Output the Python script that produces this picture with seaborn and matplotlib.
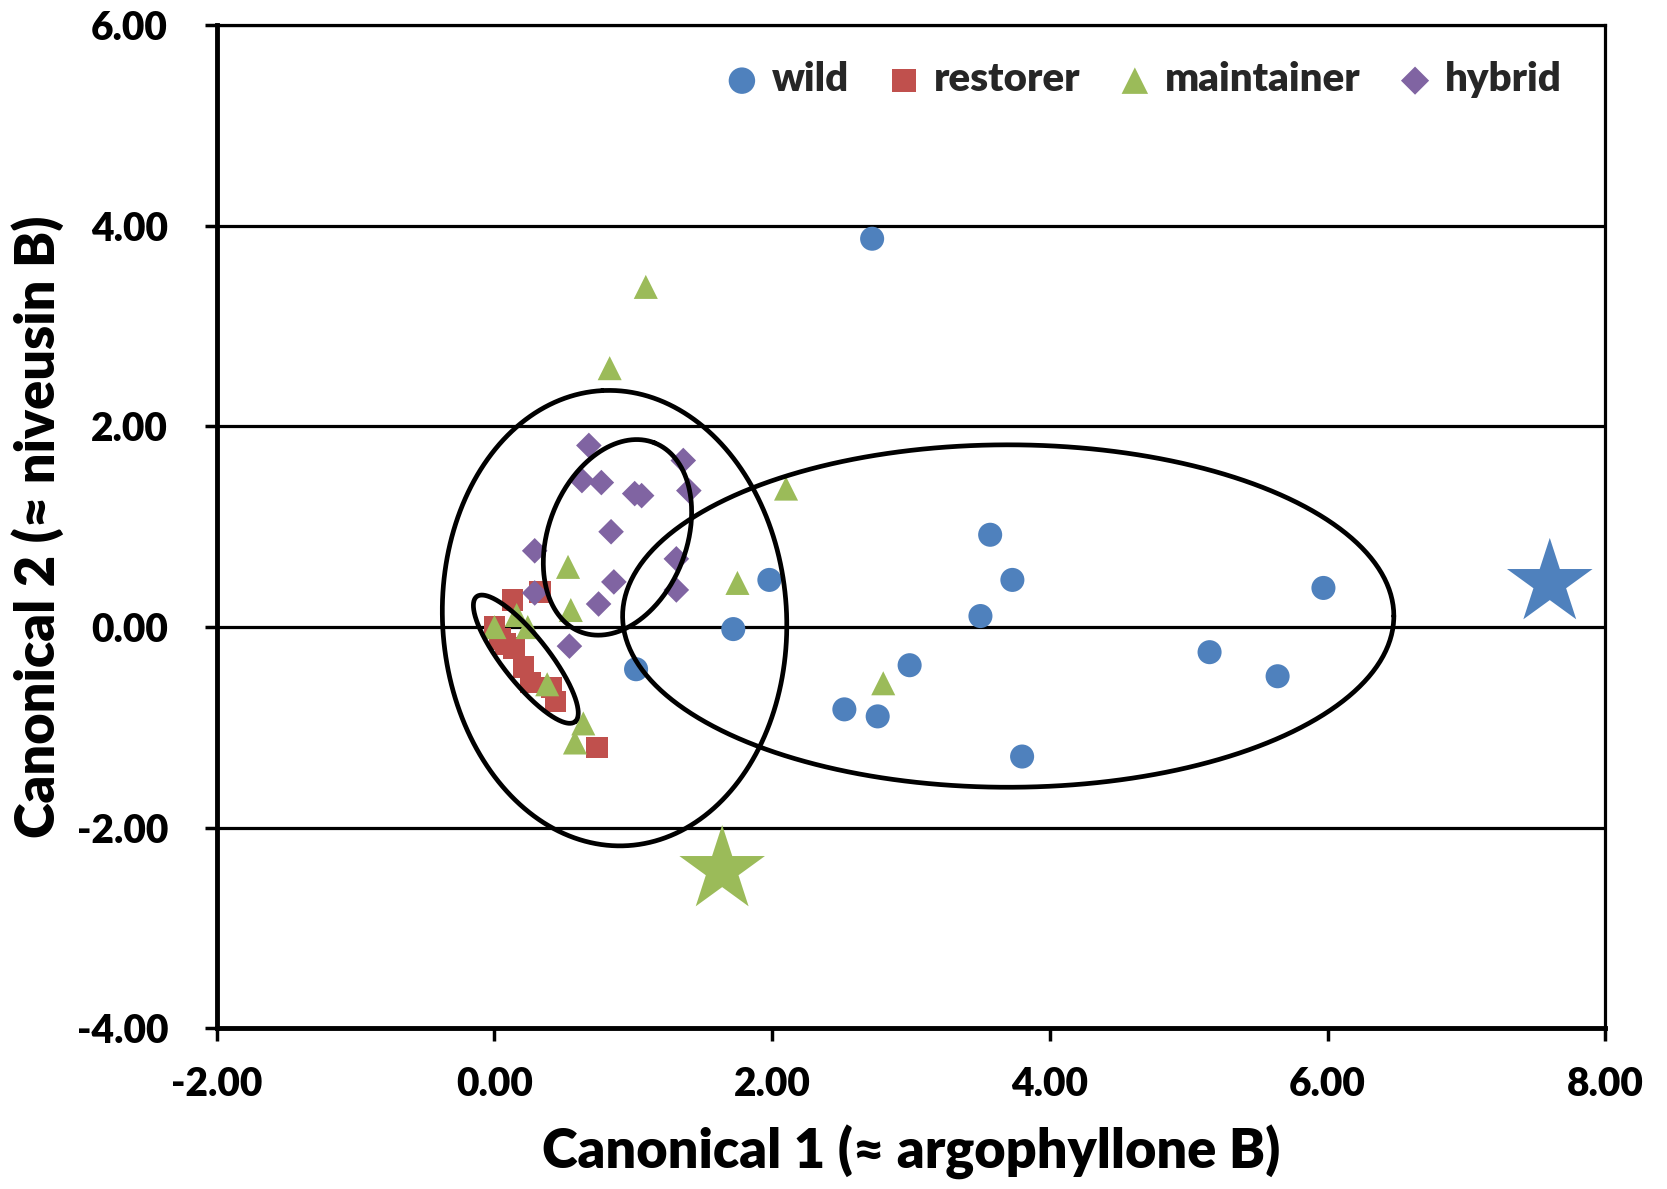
import numpy as np
import pandas as pd
import matplotlib
matplotlib.use("Agg")
import matplotlib.pyplot as plt
from matplotlib.ticker import FormatStrFormatter
import seaborn as sns

# ---------------- data ----------------
wild_x = [2.72, 3.57, 3.73, 3.50, 5.97, 5.15, 5.64, 1.98, 1.72, 1.02, 2.99, 2.52, 2.76, 3.80]
wild_y = [3.87, 0.92, 0.47, 0.11, 0.39, -0.25, -0.49, 0.47, -0.02, -0.42, -0.38, -0.82, -0.89, -1.29]

restorer_x = [0.13, 0.33, 0.00, 0.04, 0.08, 0.14, 0.21, 0.26, 0.41, 0.44, 0.74]
restorer_y = [0.27, 0.35, 0.00, -0.12, -0.17, -0.21, -0.40, -0.55, -0.60, -0.74, -1.20]

maintainer_x = [1.09, 0.83, 2.10, 1.75, 0.53, 0.55, 0.00, 0.16, 0.24, 0.38, 0.64, 0.58, 2.80]
maintainer_y = [3.39, 2.58, 1.38, 0.44, 0.60, 0.17, 0.00, 0.12, 0.00, -0.57, -0.96, -1.15, -0.56]

hybrid_x = [0.68, 1.36, 0.63, 0.77, 1.01, 1.06, 1.40, 0.84, 0.29, 1.31, 0.86, 1.31, 0.29, 0.75, 0.54]
hybrid_y = [1.81, 1.66, 1.46, 1.44, 1.33, 1.31, 1.36, 0.95, 0.76, 0.68, 0.45, 0.37, 0.34, 0.23, -0.19]

# group centroids marked with stars
star_groups = ["wild", "maintainer"]
star_x = [7.60, 1.64]
star_y = [0.44, -2.42]

groups = ["wild", "restorer", "maintainer", "hybrid"]

# confidence ellipses: centre (x, y), semi-axes in x-axis units, angle (deg, on screen)
ell_cx = [0.865, 0.226, 0.886, 3.70]
ell_cy = [0.089, -0.32, 0.894, 0.11]
ell_a = [1.641, 0.573, 0.731, 2.777]
ell_b = [1.239, 0.166, 0.497, 1.233]
ell_ang = [93.1, -51.8, 68.6, 0.0]

x_ticks = [-2, 0, 2, 4, 6, 8]
y_ticks = [-4, -2, 0, 2, 4, 6]

# ---------------- style ----------------
colors = {"wild": "#4F81BD", "restorer": "#C0504D", "maintainer": "#9BBB59", "hybrid": "#8064A2"}
markers = {"wild": "o", "restorer": "s", "maintainer": "^", "hybrid": "D"}
sizes = {"wild": 300, "restorer": 240, "maintainer": 300, "hybrid": 170}

sns.set_theme(style="white")
plt.rcParams["font.family"] = ["Lato", "DejaVu Sans"]
plt.rcParams["font.weight"] = "heavy"
plt.rcParams["axes.unicode_minus"] = False

fig = plt.figure(figsize=(16.67, 11.89), dpi=100)
ax = fig.add_axes([0.130, 0.135, 0.833, 0.844])

df = pd.concat([
    pd.DataFrame({"x": wild_x, "y": wild_y, "group": "wild"}),
    pd.DataFrame({"x": restorer_x, "y": restorer_y, "group": "restorer"}),
    pd.DataFrame({"x": maintainer_x, "y": maintainer_y, "group": "maintainer"}),
    pd.DataFrame({"x": hybrid_x, "y": hybrid_y, "group": "hybrid"}),
], ignore_index=True)

for g in groups:
    sub = df[df["group"] == g]
    sns.scatterplot(data=sub, x="x", y="y", ax=ax, marker=markers[g], s=sizes[g],
                    color=colors[g], edgecolor="none", linewidth=0, label=g, zorder=3)

stars = pd.DataFrame({"x": star_x, "y": star_y, "group": star_groups})
for _, r in stars.iterrows():
    sns.scatterplot(x=[r["x"]], y=[r["y"]], ax=ax, marker="*", s=4200,
                    color=colors[r["group"]], edgecolor="none", linewidth=0,
                    legend=False, zorder=3)

ax.set_xlim(-2, 8)
ax.set_ylim(-4, 6)
ax.set_xticks(x_ticks)
ax.set_yticks(y_ticks)
ax.xaxis.set_major_formatter(FormatStrFormatter("%.2f"))
ax.yaxis.set_major_formatter(FormatStrFormatter("%.2f"))

# ellipses drawn in screen-equal units
p0 = ax.transData.transform((0, 0))
p1 = ax.transData.transform((1, 1))
ratio = (p1[0] - p0[0]) / (p1[1] - p0[1])
t = np.linspace(0, 2 * np.pi, 400)
for cx, cy, a, b, ang in zip(ell_cx, ell_cy, ell_a, ell_b, ell_ang):
    phi = np.deg2rad(ang)
    u = a * np.cos(t) * np.cos(phi) - b * np.sin(t) * np.sin(phi)
    v = a * np.cos(t) * np.sin(phi) + b * np.sin(t) * np.cos(phi)
    ax.plot(cx + u, cy + v * ratio, color="black", lw=3.4, zorder=4)

ax.set_axisbelow(True)
ax.yaxis.grid(True, color="black", lw=2.3)
ax.xaxis.grid(False)
for side in ["top", "right"]:
    ax.spines[side].set_color("black")
    ax.spines[side].set_linewidth(2.3)
for side in ["left", "bottom"]:
    ax.spines[side].set_color("black")
    ax.spines[side].set_linewidth(3.5)

ax.tick_params(axis="both", direction="out", length=9, width=2.5, color="black",
               left=True, bottom=True, labelsize=28, labelcolor="black")
ax.tick_params(axis="x", pad=18)
ax.tick_params(axis="y", pad=26)
for lab in ax.get_xticklabels() + ax.get_yticklabels():
    lab.set_fontweight("heavy")

ax.set_xlabel("Canonical 1 (≈ argophyllone B)", fontsize=39, fontweight="heavy",
              color="black", labelpad=16)
ax.set_ylabel("Canonical 2 (≈ niveusin B)", fontsize=39, fontweight="heavy",
              color="black", labelpad=9)

handles, labels = ax.get_legend_handles_labels()
leg = ax.legend(handles, labels, loc="upper right", ncol=4, frameon=False,
                fontsize=29, handlelength=0.8, handletextpad=0.35, columnspacing=0.95,
                bbox_to_anchor=(0.995, 1.0), markerscale=1.1)
for txt in leg.get_texts():
    txt.set_fontweight("heavy")

fig.savefig("out.png", dpi=100)
